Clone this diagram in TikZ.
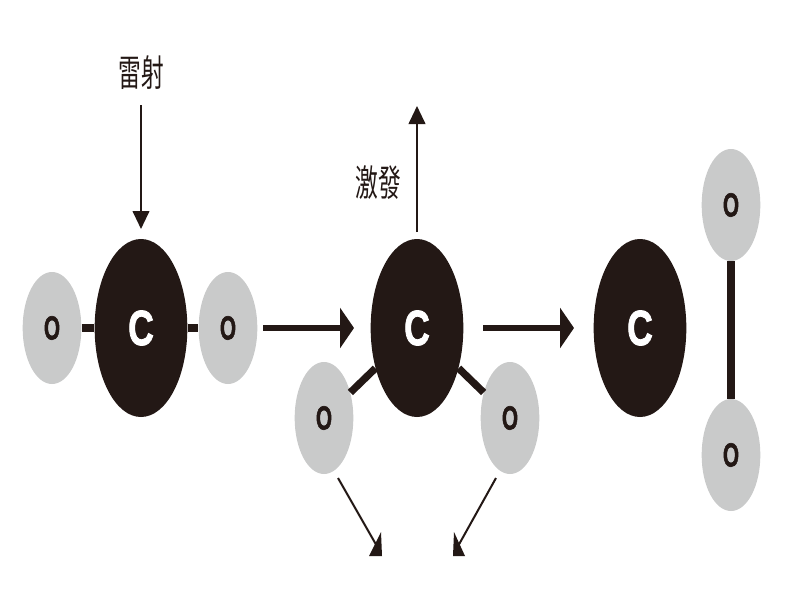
\documentclass[tikz,border=0pt]{standalone}
\usepackage{graphicx}
\usepackage{fontspec}
\setmainfont{Liberation Sans}
\newfontfamily\heavy[FakeBold=2]{Liberation Sans Bold}
\newfontfamily\cjk{Noto Sans CJK TC}
\usetikzlibrary{shapes.geometric,arrows.meta}
\definecolor{cblack}{HTML}{231815}
\definecolor{ogray}{HTML}{C9CACA}
\newcommand{\atomC}{\scalebox{0.72}[1]{\heavy\fontsize{37}{37}\selectfont C}}
\newcommand{\atomO}{\scalebox{0.62}[1]{\heavy\fontsize{25}{25}\selectfont O}}
\tikzset{
 px/.style={x=0.75pt,y=-0.75pt},
 carbon/.style={ellipse,fill=cblack,minimum width=69.5pt,minimum height=133.5pt,inner sep=0pt,text=white},
 oxy/.style={ellipse,fill=ogray,minimum width=44pt,minimum height=84pt,inner sep=0pt,text=cblack},
 bond/.style={draw=cblack,line width=5.5pt},
 thickarrow/.style={draw=cblack,line width=4.2pt,-{Triangle[length=10.5pt,width=30pt,fill=cblack]}},
 thinarrow/.style={draw=cblack,line width=1.5pt,-{Triangle[length=13.5pt,width=12.5pt,fill=cblack]}},
 thinline/.style={draw=cblack,line width=1.5pt},
 headfill/.style={fill=cblack},
 lbl/.style={text=cblack,font=\cjk\fontsize{27.5}{27.5}\selectfont,inner sep=0pt,xscale=0.62,transform shape},
}
\begin{document}
\begin{tikzpicture}[px]
\useasboundingbox (0,0) rectangle (800,600);
\fill[white] (0,0) rectangle (800,600);
% first molecule
\coordinate (a1) at (141,229);
\node[carbon] (c1) at (141,328) {\atomC};
\node[oxy] (o1l) at (52,328) {\atomO};
\node[oxy] (o1r) at (228,328) {\atomO};
\draw[bond] (o1l) -- (c1);
\draw[bond] (c1) -- (o1r);
\node[lbl] (laser) at (141,73) {雷射};
\coordinate (a0) at (141,105);
\draw[thinarrow] (a0) -- (a1);
% second
\node[carbon] (c2) at (417,328) {\atomC};
\node[oxy] (o2l) at (324,418) {\atomO};
\node[oxy] (o2r) at (510,418) {\atomO};
\draw[bond] (o2l) -- (c2);
\draw[bond] (c2) -- (o2r);
\coordinate (u0) at (417,232);
\coordinate (u1) at (417,106);
\draw[thinarrow] (u0) -- (u1);
\node[lbl] (exc) at (378,183) {激發};
% cut-off diagonal arrows
\coordinate (dl0) at (338,478);
\coordinate (dl1) at (378,548);
\coordinate (dr0) at (496,478);
\coordinate (dr1) at (457,548);
\draw[thinline] (dl0) -- (dl1);
\draw[thinline] (dr0) -- (dr1);
\fill[headfill] (382,556) -- (369,556) -- (381,532) -- cycle;
\fill[headfill] (453,556) -- (465,556) -- (454,532) -- cycle;
% third
\node[carbon] (c3) at (640,328) {\atomC};
\node[oxy] (o3t) at (731,205) {\atomO};
\node[oxy] (o3b) at (731,455) {\atomO};
\draw[bond] (o3t) -- (o3b);
% reaction arrows
\coordinate (r0) at (263,328);
\coordinate (r3) at (354,328);
\draw[thickarrow] (r0) -- (r3);
\coordinate (r1) at (483,328);
\coordinate (r2) at (574,328);
\draw[thickarrow] (r1) -- (r2);
\end{tikzpicture}
\end{document}
